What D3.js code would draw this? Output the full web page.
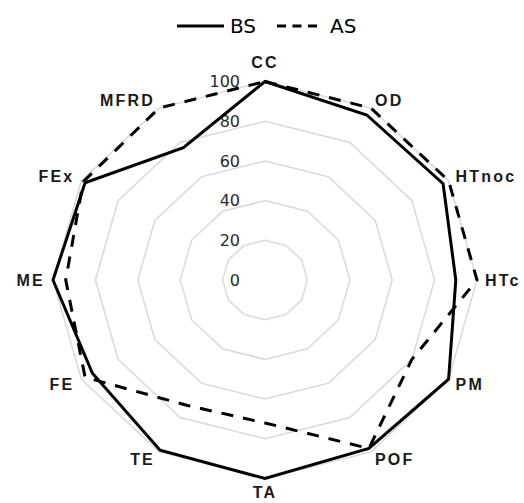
<!DOCTYPE html>
<html>
<head>
<meta charset="utf-8">
<script src="https://cdn.jsdelivr.net/npm/d3@7"></script>
<style>
  body { margin: 0; background: #fff; }
  svg { display: block; }
</style>
</head>
<body>
<script>
// axes of the radar, clockwise from the top
let categories = ['CC', 'OD', 'HTnoc', 'HTc', 'PM', 'POF', 'TA', 'TE', 'FE', 'ME', 'FEx', 'MFRD'];
let bsValues = [100, 96, 97, 90, 100, 98, 100, 99, 94, 100, 98, 77];
let asValues = [100, 100, 100, 100, 80, 98, 72, 73, 98, 94, 99, 100];
let tickValues = [0, 20, 40, 60, 80, 100];
let seriesNames = ['BS', 'AS'];

let width = 524, height = 503;
let cx = 265, cy = 280;

let svg = d3.select('body')
  .append('svg')
  .attr('width', width)
  .attr('height', height);

// the picture is a bit wider than tall, so x and y radii differ
let rx = d3.scaleLinear().domain([0, 100]).range([0, 212]);
let ry = d3.scaleLinear().domain([0, 100]).range([0, 198.5]);
let angle = d3.scalePoint()
  .domain(categories)
  .range([0, 2 * Math.PI * (categories.length - 1) / categories.length]);

function px(cat, v) { return cx + rx(v) * Math.sin(angle(cat)); }
function py(cat, v) { return cy - ry(v) * Math.cos(angle(cat)); }

// grid rings
let ring = d3.line()
  .x(d => px(d.cat, d.v))
  .y(d => py(d.cat, d.v))
  .curve(d3.curveLinearClosed);

svg.append('g').selectAll('path')
  .data(tickValues.filter(t => t > 0))
  .enter().append('path')
  .attr('d', t => ring(categories.map(c => ({cat: c, v: t}))))
  .attr('fill', 'none')
  .attr('stroke', '#d9d9d9')
  .attr('stroke-width', 1.5);

// tick labels along the top axis
svg.append('g').selectAll('text')
  .data(tickValues)
  .enter().append('text')
  .attr('x', 240)
  .attr('y', t => cy - ry(t))
  .attr('dy', '0.36em')
  .attr('text-anchor', 'end')
  .attr('font-family', 'DejaVu Sans, Verdana, sans-serif')
  .attr('font-size', 16)
  .attr('fill', '#2a2a2a')
  .text(t => t);

// series
let series = [
  {name: seriesNames[0], values: bsValues, dash: null},
  {name: seriesNames[1], values: asValues, dash: '12,10'}
];

svg.append('g').selectAll('path')
  .data(series)
  .enter().append('path')
  .attr('d', s => ring(categories.map((c, i) => ({cat: c, v: s.values[i]}))))
  .attr('fill', 'none')
  .attr('stroke', '#000')
  .attr('stroke-width', 3)
  .attr('stroke-linejoin', 'miter')
  .attr('stroke-dasharray', s => s.dash);

// category labels
svg.append('g').selectAll('text')
  .data(categories)
  .enter().append('text')
  .attr('x', c => cx + (rx(100) + 8) * Math.sin(angle(c)))
  .attr('y', c => {
    let cos = Math.cos(angle(c));
    let y = cy - (ry(100) + 9) * cos;
    if (cos > 0.99) y -= 10;
    if (cos < -0.99) y += 5;
    return y;
  })
  .attr('dy', '0.36em')
  .attr('text-anchor', c => {
    let s = Math.sin(angle(c));
    return s > 0.01 ? 'start' : (s < -0.01 ? 'end' : 'middle');
  })
  .attr('font-family', 'Liberation Sans, Arial, sans-serif')
  .attr('font-weight', 'bold')
  .attr('font-size', 16)
  .attr('letter-spacing', 2.2)
  .attr('fill', '#1a1a1a')
  .text(c => c);

// legend
let legend = svg.append('g').attr('transform', 'translate(0,26)');
let legendX = [177, 277];
let item = legend.selectAll('g')
  .data(series)
  .enter().append('g')
  .attr('transform', (d, i) => 'translate(' + legendX[i] + ',0)');

item.append('line')
  .attr('x1', 0).attr('x2', (d, i) => i === 0 ? 47 : 40)
  .attr('y1', 0).attr('y2', 0)
  .attr('stroke', '#000')
  .attr('stroke-width', 3)
  .attr('stroke-dasharray', (d, i) => i === 0 ? null : '9,6.5');

item.append('text')
  .attr('x', 53)
  .attr('dy', '0.36em')
  .attr('font-family', 'DejaVu Sans, Verdana, sans-serif')
  .attr('font-size', 20)
  .attr('fill', '#000')
  .text(d => d.name);
</script>
</body>
</html>
